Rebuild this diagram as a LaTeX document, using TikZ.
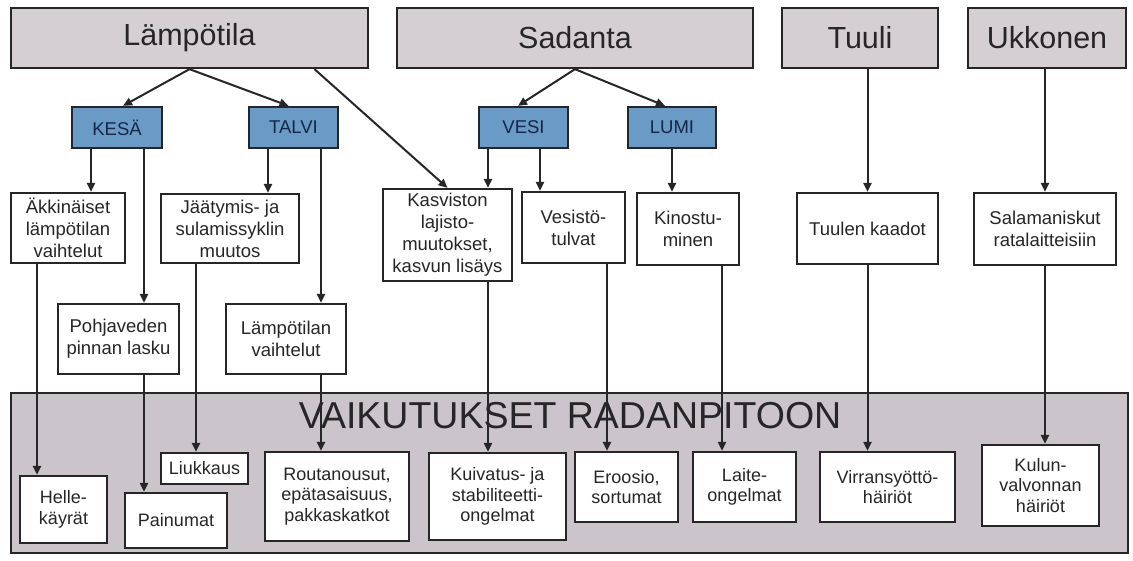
\documentclass[tikz,border=0pt]{standalone}
\usepackage{fontspec}
\setmainfont{Liberation Sans}
\usepackage{xcolor}
\usepackage{tikz}
\usetikzlibrary{arrows.meta}

\definecolor{topgray}{RGB}{213,207,211}
\definecolor{effectgray}{RGB}{204,196,203}
\definecolor{seasonblue}{RGB}{106,155,199}
\definecolor{navytext}{RGB}{22,38,70}
\definecolor{inkgray}{RGB}{38,38,38}

\tikzset{
  mainbox/.style={draw=inkgray,line width=2.3pt,fill=topgray,text=inkgray,inner sep=0pt,font=\fontsize{30.5}{34}\selectfont},
  seasonbox/.style={draw=inkgray,line width=2.3pt,fill=seasonblue,text=navytext,inner sep=0pt,minimum height=41pt,font=\fontsize{18.5}{21}\selectfont},
  causebox/.style={draw=inkgray,line width=2.2pt,fill=white,text=inkgray,inner sep=0pt,align=center,font=\fontsize{18.5}{22}\selectfont},
  effectbox/.style={draw=inkgray,line width=2.2pt,fill=white,text=inkgray,inner sep=0pt,align=center,font=\fontsize{18}{20.5}\selectfont},
  arr/.style={draw=inkgray,line width=2pt,-{Triangle[length=9pt,width=8pt]}}
}

\begin{document}
\begin{tikzpicture}[x=1pt,y=-1pt]
    \useasboundingbox (0,0) rectangle (1133,560);

    % vaikutukset
    \node[draw=inkgray,line width=2.3pt,fill=effectgray,minimum width=1117pt,minimum height=160pt,inner sep=0pt] (effects) at (569.5,473) {};
    \node[anchor=base,text=inkgray,inner sep=0pt,font=\fontsize{37.5}{42}\selectfont] (title) at (570,428) {VAIKUTUKSET RADANPITOON};

    % ilmastotekijat
    \node[mainbox,minimum width=357pt,minimum height=60pt] (temp) at (189.5,38) {Lämpötila};
    \node[mainbox,minimum width=356pt,minimum height=60pt] (prec) at (575,38) {Sadanta};
    \node[mainbox,minimum width=156pt,minimum height=60pt] (wind) at (860,38) {Tuuli};
    \node[mainbox,minimum width=158pt,minimum height=60pt] (storm) at (1047,38) {Ukkonen};

    \node[seasonbox,minimum width=90pt] (kesa) at (117,127.5) {KESÄ};
    \node[seasonbox,minimum width=89pt] (talvi) at (293.5,127.5) {TALVI};
    \node[seasonbox,minimum width=89pt] (vesi) at (523.5,127.5) {VESI};
    \node[seasonbox,minimum width=88pt] (lumi) at (672,127.5) {LUMI};

    % ilmiot
    \node[causebox,minimum width=114pt,minimum height=70pt] (akk) at (68,228) {Äkkinäiset\\lämpötilan\\vaihtelut};
    \node[causebox,minimum width=138pt,minimum height=69pt] (jaat) at (230,228.5) {Jäätymis- ja\\sulamissyklin\\muutos};
    \node[causebox,minimum width=129pt,minimum height=92pt] (kasv) at (447.5,235) {Kasviston\\lajisto-\\muutokset,\\kasvun lisäys};
    \node[causebox,minimum width=103pt,minimum height=71pt] (tulva) at (573.5,227.5) {Vesistö-\\tulvat};
    \node[causebox,minimum width=102pt,minimum height=72pt] (kino) at (688,229) {Kinostu-\\minen};
    \node[causebox,minimum width=141pt,minimum height=71pt] (kaado) at (867.5,228.5) {Tuulen kaadot};
    \node[causebox,minimum width=142pt,minimum height=72pt] (salama) at (1045,229) {Salamaniskut\\ratalaitteisiin};
    \node[causebox,minimum width=121pt,minimum height=70pt] (pohja) at (118.5,339) {Pohjaveden\\pinnan lasku};
    \node[causebox,minimum width=120pt,minimum height=70pt] (vaiht) at (286,339) {Lämpötilan\\vaihtelut};

    % seuraukset
    \node[effectbox,minimum width=87pt,minimum height=67pt] (helle) at (63.5,509.5) {Helle-\\käyrät};
    \node[effectbox,minimum width=102pt,minimum height=55pt] (painu) at (176,520.5) {Painumat};
    \node[effectbox,minimum width=87pt,minimum height=31pt] (liuk) at (204.5,468.5) {Liukkaus};
    \node[effectbox,minimum width=144pt,minimum height=89pt] (routa) at (337,496.5) {Routanousut,\\epätasaisuus,\\pakkaskatkot};
    \node[effectbox,minimum width=137pt,minimum height=87pt] (kuiv) at (497.5,496.5) {Kuivatus- ja\\stabiliteetti-\\ongelmat};
    \node[effectbox,minimum width=103pt,minimum height=70pt] (eroo) at (626.5,487) {Eroosio,\\sortumat};
    \node[effectbox,minimum width=103pt,minimum height=70pt] (laite) at (744.5,487) {Laite-\\ongelmat};
    \node[effectbox,minimum width=135pt,minimum height=70pt] (virta) at (887.5,487) {Virransyöttö-\\häiriöt};
    \node[effectbox,minimum width=117pt,minimum height=81pt] (kulun) at (1040.5,485.5) {Kulun-\\valvonnan\\häiriöt};

    \draw[arr] (temp.south) -- ([xshift=6pt]kesa.north);
    \draw[arr] (temp.south) -- ([xshift=-5pt]talvi.north);
    \draw[arr] ([xshift=125pt]temp.south) -- (kasv.north);
    \draw[arr] (prec.south) -- ([xshift=-5.5pt]vesi.north);
    \draw[arr] (prec.south) -- ([xshift=-7pt]lumi.north);
    \draw[arr] (kaado.north |- wind.south) -- (kaado.north);
    \draw[arr] (salama.north |- storm.south) -- (salama.north);

    \draw[arr] ([xshift=-26pt]kesa.south) coordinate (k1) -- (k1 |- akk.north);
    \draw[arr] ([xshift=27pt]kesa.south) coordinate (k2) -- (k2 |- pohja.north);
    \draw[arr] ([xshift=-25.5pt]talvi.south) coordinate (t1) -- (t1 |- jaat.north);
    \draw[arr] ([xshift=27.5pt]talvi.south) coordinate (t2) -- (t2 |- vaiht.north);
    \draw[arr] ([xshift=-35.5pt]vesi.south) coordinate (v1) -- (v1 |- kasv.north);
    \draw[arr] ([xshift=16.5pt]vesi.south) coordinate (v2) -- (v2 |- tulva.north);
    \draw[arr] (lumi.south) -- (lumi.south |- kino.north);

    \draw[arr] ([xshift=-31pt]akk.south) coordinate (a1) -- (a1 |- helle.north);
    \draw[arr] ([xshift=25.5pt]pohja.south) coordinate (p1) -- (p1 |- painu.north);
    \draw[arr] ([xshift=-34pt]jaat.south) coordinate (j1) -- (j1 |- liuk.north);
    \draw[arr] ([xshift=35pt]vaiht.south) coordinate (l1) -- (l1 |- routa.north);
    \draw[arr] ([xshift=40.5pt]kasv.south) coordinate (s1) -- (s1 |- kuiv.north);
    \draw[arr] ([xshift=33.5pt]tulva.south) coordinate (w1) -- (w1 |- eroo.north);
    \draw[arr] ([xshift=34pt]kino.south) coordinate (n1) -- (n1 |- laite.north);
    \draw[arr] (kaado.south) -- (kaado.south |- virta.north);
    \draw[arr] (salama.south) -- (salama.south |- kulun.north);
\end{tikzpicture}
\end{document}
